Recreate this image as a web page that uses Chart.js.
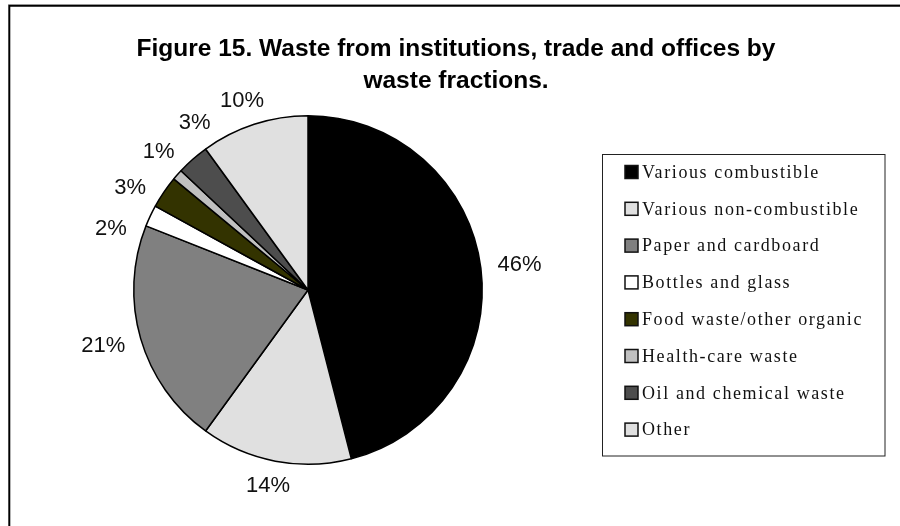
<!DOCTYPE html>
<html>
<head>
<meta charset="utf-8">
<title>Figure 15. Waste from institutions, trade and offices by waste fractions.</title>
<script src="https://cdn.jsdelivr.net/npm/chart.js@4.4.1/dist/chart.umd.min.js"></script>
<style>
  html, body { margin: 0; padding: 0; background: #ffffff; }
  #wrap { width: 900px; height: 526px; }
</style>
</head>
<body>
<div id="wrap"><canvas id="chart" width="900" height="526"></canvas></div>
<script>
// Waste fractions, share of total (%)
const categories = [
  'Various combustible',
  'Various non-combustible',
  'Paper and cardboard',
  'Bottles and glass',
  'Food waste/other organic',
  'Health-care waste',
  'Oil and chemical waste',
  'Other'
];
const shares = [46, 14, 21, 2, 3, 1, 3, 10];
const titleLines = [
  'Figure 15. Waste from institutions, trade and offices by',
  'waste fractions.'
];

// Fill colour for each fraction
const palette = ['#000000', '#e0e0e0', '#808080', '#ffffff', '#333300', '#c0c0c0', '#4d4d4d', '#e0e0e0'];

// Outer frame (left and top rules) and the two-line heading
const framePlugin = {
  id: 'frameAndHeading',
  afterDraw(chart) {
    const ctx = chart.ctx;
    ctx.save();
    ctx.strokeStyle = '#c8c8c8';
    ctx.lineWidth = 1;
    ctx.beginPath();
    ctx.moveTo(8, 4.5); ctx.lineTo(900, 4.5);
    ctx.stroke();
    ctx.strokeStyle = '#000000';
    ctx.lineWidth = 2;
    ctx.beginPath();
    ctx.moveTo(9.3, 526); ctx.lineTo(9.3, 5.8); ctx.lineTo(900, 5.8);
    ctx.stroke();

    ctx.fillStyle = '#000000';
    ctx.font = 'bold 24.5px "Liberation Sans", Arial, sans-serif';
    ctx.textAlign = 'center';
    ctx.textBaseline = 'alphabetic';
    titleLines.forEach((line, i) => ctx.fillText(line, 456, 56 + i * 32));
    ctx.restore();
  }
};

// Percentage labels just outside each slice; neighbouring labels of thin
// slices are fanned out so they keep a minimum angular distance.
const percentLabels = {
  id: 'percentLabels',
  afterDatasetsDraw(chart) {
    const ctx = chart.ctx;
    const meta = chart.getDatasetMeta(0);
    const values = chart.data.datasets[0].data;
    const size = 22, gap = 17;
    const minSep = 13 * Math.PI / 180;
    const arcs = meta.data.map(a => a.getProps(['x', 'y', 'startAngle', 'endAngle', 'outerRadius'], true));
    const ang = arcs.map(p => (p.startAngle + p.endAngle) / 2);
    for (let it = 0; it < 300; it++) {
      for (let i = 0; i < ang.length - 1; i++) {
        const d = ang[i + 1] - ang[i];
        if (d < minSep) {
          const push = (minSep - d) / 2;
          ang[i] -= push;
          ang[i + 1] += push;
        }
      }
    }
    ctx.save();
    ctx.font = size + 'px "Liberation Sans", Arial, sans-serif';
    ctx.fillStyle = '#111111';
    ctx.textAlign = 'center';
    ctx.textBaseline = 'middle';
    arcs.forEach((p, i) => {
      const cx = Math.cos(ang[i]), cy = Math.sin(ang[i]);
      const text = values[i] + '%';
      const w = ctx.measureText(text).width;
      const h = size * 0.72;
      const r = p.outerRadius + gap;
      ctx.fillText(text, p.x + cx * r + cx * w / 2, p.y + cy * r + cy * h / 2);
    });
    ctx.restore();
  }
};

// Boxed legend on the right
const boxedLegend = {
  id: 'boxedLegend',
  afterDraw(chart) {
    const ctx = chart.ctx;
    const ds = chart.data.datasets[0];
    ctx.save();
    ctx.strokeStyle = '#222222';
    ctx.lineWidth = 1;
    ctx.strokeRect(602.5, 154.5, 282.5, 301.5);
    ctx.font = '18px "Liberation Serif", "Times New Roman", serif';
    ctx.textAlign = 'left';
    ctx.textBaseline = 'middle';
    chart.data.labels.forEach((label, i) => {
      const y = 172 + i * 36.8;
      ctx.fillStyle = ds.backgroundColor[i];
      ctx.fillRect(625, y - 6.5, 13, 13);
      ctx.lineWidth = 1.5;
      ctx.strokeStyle = '#111111';
      ctx.strokeRect(625, y - 6.5, 13, 13);
      ctx.fillStyle = '#111111';
      ctx.letterSpacing = '1.6px';
      ctx.fillText(label, 642, y + 1);
      ctx.letterSpacing = '0px';
    });
    ctx.restore();
  }
};

new Chart(document.getElementById('chart'), {
  type: 'pie',
  data: {
    labels: categories,
    datasets: [{
      data: shares,
      backgroundColor: palette,
      borderColor: '#000000',
      borderWidth: 1.5
    }]
  },
  options: {
    responsive: false,
    devicePixelRatio: 1,
    animation: false,
    layout: { padding: { left: 133, right: 417, top: 115, bottom: 61 } },
    plugins: {
      legend: { display: false },
      title: { display: false },
      tooltip: { enabled: false }
    }
  },
  plugins: [percentLabels, boxedLegend, framePlugin]
});
</script>
</body>
</html>
